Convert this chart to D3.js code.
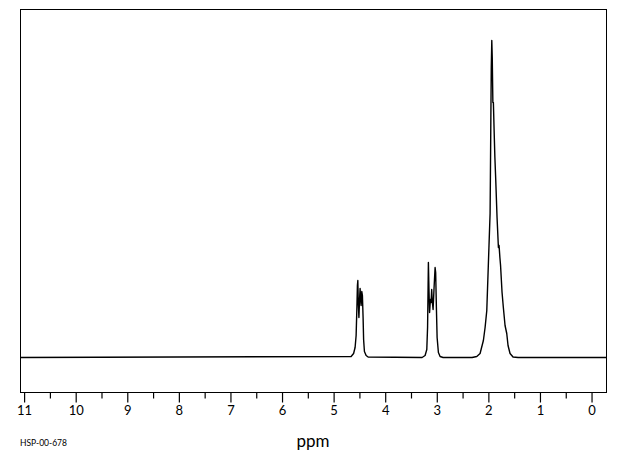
<!DOCTYPE html>
<html>
<head>
<meta charset="utf-8">
<script src="https://cdn.jsdelivr.net/npm/d3@7"></script>
<style>
  html, body { margin: 0; padding: 0; background: #fff; }
  svg { display: block; }
  text { font-family: "Lato", "DejaVu Sans", sans-serif; fill: #000; }
</style>
</head>
<body>
<svg id="chart" width="620" height="455"></svg>
<script>
// ---- data ----
const ppmDomain = [11.07, -0.29];
const majorTicks = [11, 10, 9, 8, 7, 6, 5, 4, 3, 2, 1, 0];
const minorTicks = [10.5, 9.5, 8.5, 7.5, 6.5, 5.5, 4.5, 3.5, 2.5, 1.5, 0.5];
const xLabel = "ppm";
const sampleId = "HSP-00-678";

// spectrum trace: chemical shift (ppm) and intensity (arbitrary units)
const shift = [
  11.07, 4.651, 4.603, 4.574, 4.554, 4.539, 4.529, 4.521, 4.512, 4.500, 4.486, 4.477, 4.465, 4.457,
  4.444, 4.432, 4.419, 4.409, 4.393, 4.360, 4.322,
  3.275, 3.217, 3.184, 3.169, 3.159, 3.153, 3.143, 3.130, 3.114, 3.101, 3.089, 3.076, 3.062,
  3.043, 3.023, 3.012, 2.998, 2.984, 2.959, 2.926, 2.868,
  2.306, 2.215, 2.151, 2.087, 2.054, 2.021, 1.990, 1.957, 1.951, 1.942, 1.934, 1.924, 1.915,
  1.903, 1.893, 1.880, 1.864, 1.847, 1.822, 1.796, 1.783, 1.767, 1.754, 1.725, 1.700, 1.667,
  1.634, 1.609, 1.570, 1.512, 1.415, -0.29
];
const intensity = [
  0, 1, 4, 10, 22, 50, 72, 77, 55, 40, 60, 69, 58, 52,
  66, 62, 40, 18, 6, 2, 0.5,
  0, 2, 8, 30, 70, 95, 70, 45, 58, 55, 68, 55, 48,
  70, 90, 85, 50, 20, 5, 1, 0,
  0, 1, 4, 17, 30, 47, 94, 144, 180, 240, 290, 317, 300,
  255, 255, 229, 200, 177, 140, 110, 112, 100, 92, 65, 50, 32,
  24, 12, 4, 0.5, 0, 0
];

// ---- drawing ----
const svg = d3.select("#chart");
const frame = { left: 20, right: 606, top: 9, bottom: 392 };

const x = d3.scaleLinear().domain(ppmDomain).range([frame.left, frame.right]);
const y = d3.scaleLinear().domain([-35, 348]).range([frame.bottom, frame.top]);

// frame
svg.append("rect")
  .attr("x", frame.left + 0.5).attr("y", frame.top + 0.5)
  .attr("width", frame.right - frame.left).attr("height", frame.bottom - frame.top)
  .attr("fill", "none").attr("stroke", "#000").attr("stroke-width", 1);

// clip for spectrum
svg.append("clipPath").attr("id", "clip").append("rect")
  .attr("x", frame.left).attr("y", frame.top)
  .attr("width", frame.right - frame.left).attr("height", frame.bottom - frame.top);

const pts = shift.map((s, i) => [s, intensity[i]]);
const line = d3.line().x(d => x(d[0])).y(d => y(d[1]) + 0.5);
svg.append("path")
  .datum(pts)
  .attr("clip-path", "url(#clip)")
  .attr("d", line)
  .attr("fill", "none")
  .attr("stroke", "#000")
  .attr("stroke-width", 1.4)
  .attr("stroke-linejoin", "round");

// axis: major ticks with labels
const axisMajor = d3.axisBottom(x).tickValues(majorTicks).tickSize(10).tickPadding(3)
  .tickFormat(d3.format("d"));
const gMaj = svg.append("g").attr("transform", `translate(0.5,${frame.bottom + 0.5})`).call(axisMajor);
gMaj.select(".domain").remove();
gMaj.selectAll("line").attr("stroke", "#000").attr("stroke-width", 1.2);
gMaj.selectAll("text").attr("font-size", 13).attr("fill", "#000")
  .attr("font-family", "Lato, DejaVu Sans, sans-serif");

const axisMinor = d3.axisBottom(x).tickValues(minorTicks).tickSize(6).tickFormat("");
const gMin = svg.append("g").attr("transform", `translate(0.5,${frame.bottom + 0.5})`).call(axisMinor);
gMin.select(".domain").remove();
gMin.selectAll("line").attr("stroke", "#000").attr("stroke-width", 1.2);

// axis title
svg.append("text")
  .attr("x", 313).attr("y", 447)
  .attr("text-anchor", "middle")
  .attr("font-size", 17)
  .text(xLabel);

svg.append("text")
  .attr("x", 20).attr("y", 446)
  .attr("font-size", 8.5)
  .attr("font-family", "DejaVu Sans Mono, monospace")
  .text(sampleId);
</script>
</body>
</html>
